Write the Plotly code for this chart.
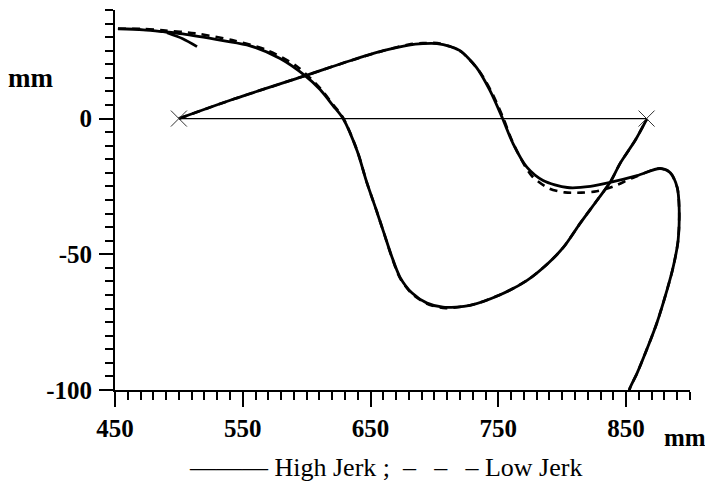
import plotly.graph_objects as go

# ---------------- data (mm) ----------------
# High Jerk: path starting at the left cross
hj_a_x = [500, 543, 599, 634, 660, 680, 691, 702, 712, 720, 733, 743.5, 753, 761.5, 772.5, 785, 804, 822, 837.5,
          858.6, 876.6, 884.4, 890, 891.5, 890.7, 886.8, 882, 874, 866, 858.6, 853, 851]
hj_a_y = [0, 7.2, 15.8, 21.3, 25, 27.1, 27.6, 27.6, 26.6, 25, 18.8, 10.3, 0.4, -9.2, -18, -22.8, -25.4, -25, -23.5,
          -21, -18.4, -19.9, -25.4, -32.7, -44.9, -54.8, -63.2, -75.4, -85.3, -93.8, -99.3, -103]

# High Jerk: path starting at upper left, ending at the right cross
hj_b_x = [452.3, 472, 487.6, 503, 534.5, 555.7, 579.2, 598.7, 610.5, 620.6, 628.5, 639.4, 647.3, 655, 660.5,
          666.8, 673.1, 682.5, 694.2, 706.7, 727.9, 751, 772.5, 789, 801, 814, 827.3, 837.5, 845.3, 857, 866.4]
hj_b_y = [33.1, 32.7, 32, 31.2, 28.7, 26.8, 22.1, 15.8, 10.7, 4.8, 0, -11.8, -23.9, -34.4, -42.2,
          -51.1, -58.5, -64.3, -68, -69.5, -68.8, -65, -59.6, -53.3, -47.4, -38.6, -30.1, -23.5, -16.5, -8.1, 0]

# short stroke near the upper-left start
hj_tail_x = [490.7, 503, 514.2]
hj_tail_y = [31.6, 29.4, 26.5]

# Low Jerk paths
lj_a_x = [500, 543, 599, 634, 660, 680, 691, 702, 712, 721, 735, 745, 754, 762, 776, 790, 802, 815, 827, 840,
          856, 876, 884.4, 890, 891.5, 890.7, 886.8, 882, 874, 866, 858.6, 853, 851]
lj_a_y = [0, 7.2, 15.8, 21.3, 25, 27.3, 27.8, 27.8, 26.6, 24.6, 17.5, 9.5, 0, -9.5, -21, -25.8, -27.2, -27.3, -26.8, -25,
          -21.7, -18.4, -19.9, -25.4, -32.7, -44.9, -54.8, -63.2, -75.4, -85.3, -93.8, -99.3, -103]

lj_b_x = [452.3, 472, 487.6, 512.6, 541.6, 569, 592.5, 610.5, 620.6, 628.5, 639.4, 647.3, 655, 660.5,
          666.8, 673.1, 682.5, 694.2, 706.7, 727.9, 751, 772.5, 789, 801, 814, 827.3, 837.5, 845.3, 857, 866.4]
lj_b_y = [33.1, 33, 32.5, 31.4, 28.9, 25.2, 19.2, 11.2, 5.2, 0.3, -11.6, -23.9, -34.4, -42.2,
          -51.3, -58.8, -64.6, -68.2, -69.8, -68.8, -65, -59.6, -53.3, -47.4, -38.6, -30.1, -23.5, -16.5, -8.1, 0]

# straight reference path between the two crosses
straight_x = [500, 866]
straight_y = [0, 0]

x_ticks = [450, 550, 650, 750, 850]
y_ticks = [0, -50, -100]

# ---------------- figure ----------------
SERIF = "Liberation Serif, Times New Roman, serif"
fig = go.Figure()

dash_line = dict(color="black", width=2.6, dash="8px,6px", shape="spline", smoothing=0.8)
solid_line = dict(color="black", width=2.8, shape="spline", smoothing=0.8)

fig.add_trace(go.Scatter(x=lj_a_x, y=lj_a_y, mode="lines", line=dash_line, showlegend=False))
fig.add_trace(go.Scatter(x=lj_b_x, y=lj_b_y, mode="lines", line=dash_line, showlegend=False))
fig.add_trace(go.Scatter(x=hj_a_x, y=hj_a_y, mode="lines", line=solid_line, showlegend=False))
fig.add_trace(go.Scatter(x=hj_b_x, y=hj_b_y, mode="lines", line=solid_line, showlegend=False))
fig.add_trace(go.Scatter(x=hj_tail_x, y=hj_tail_y, mode="lines", line=solid_line, showlegend=False))
fig.add_trace(go.Scatter(x=straight_x, y=straight_y, mode="lines+markers",
                         line=dict(color="black", width=1.3),
                         marker=dict(symbol="x-thin", size=16, line=dict(color="#333", width=1)),
                         showlegend=False))

# the page body has an 8px margin, so the figure is drawn 8px smaller and offset
fig.update_layout(
    width=705, height=478,
    margin=dict(l=107, r=23, t=2, b=96),
    paper_bgcolor="white", plot_bgcolor="white",
    font=dict(family=SERIF, color="black"),
    showlegend=False,
)

fig.update_xaxes(
    range=[450, 900], showgrid=False, zeroline=False,
    showline=True, linecolor="black", linewidth=2,
    tickmode="array", tickvals=x_ticks, ticktext=[str(v) for v in x_ticks],
    ticks="outside", ticklen=15, tickwidth=2, tickcolor="black",
    minor=dict(dtick=10, tick0=450, ticks="outside", ticklen=8, tickwidth=1.6, tickcolor="black"),
    tickfont=dict(family=SERIF, size=25, color="black", weight="bold"),
    ticklabelstandoff=0,
)
fig.update_yaxes(
    range=[-100, 40], showgrid=False, zeroline=False,
    showline=True, linecolor="black", linewidth=2,
    tickmode="array", tickvals=y_ticks, ticktext=[str(v) for v in y_ticks],
    ticks="outside", ticklen=14, tickwidth=2, tickcolor="black",
    minor=dict(dtick=5, tick0=0, ticks="outside", ticklen=8, tickwidth=1.6, tickcolor="black"),
    tickfont=dict(family=SERIF, size=25, color="black", weight="bold"),
    ticklabelstandoff=2,
)

fig.add_annotation(text="mm", xref="paper", yref="paper", x=(30 - 115) / 575, y=(390 - 78) / 380,
                   showarrow=False, xanchor="center", yanchor="middle",
                   font=dict(family=SERIF, size=27, color="black", weight="bold"))
fig.add_annotation(text="mm", xref="paper", yref="paper", x=(685 - 115) / 575, y=(390 - 437) / 380,
                   showarrow=False, xanchor="center", yanchor="middle",
                   font=dict(family=SERIF, size=25, color="black", weight="bold"))
fig.add_annotation(text="——— High Jerk ;  –\u2002\u2009–\u2002\u2009– Low Jerk", xref="paper", yref="paper",
                   x=(385 - 115) / 575, y=(390 - 484) / 380,
                   showarrow=False, xanchor="center", yanchor="bottom",
                   font=dict(family=SERIF, size=26, color="black"))

fig.write_html("out.html")
